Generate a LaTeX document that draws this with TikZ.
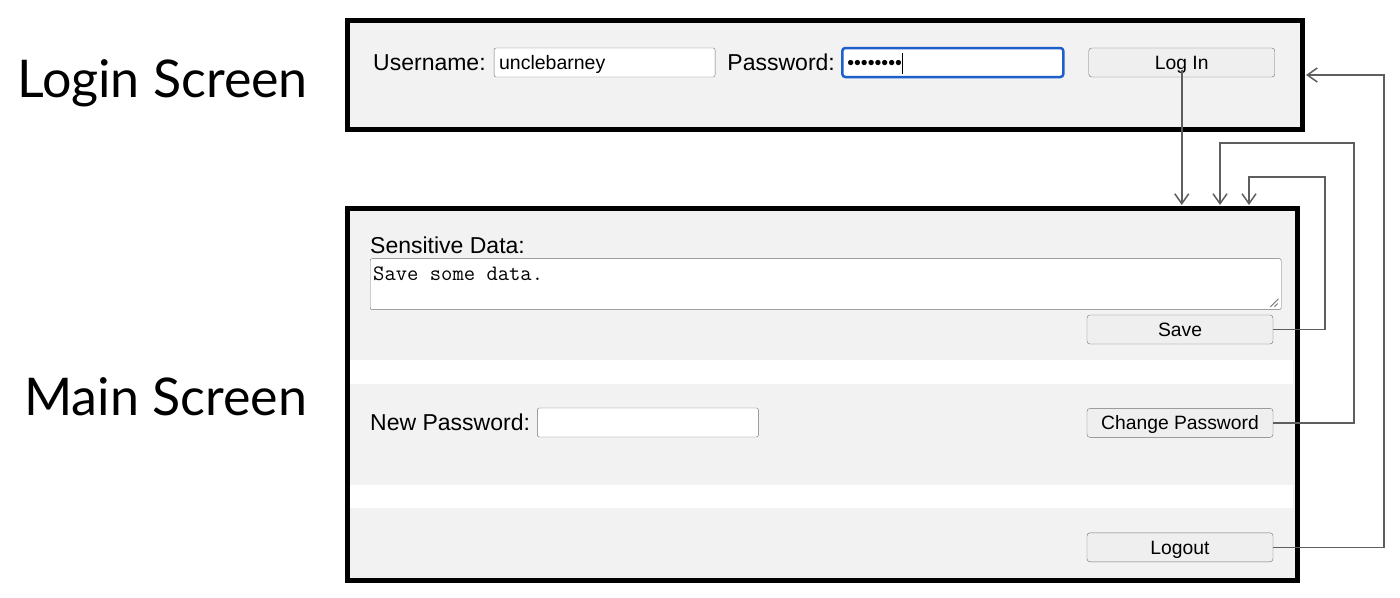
\documentclass[tikz,border=0pt]{standalone}
\usepackage{fontspec}
\setmainfont{Liberation Sans}
\newfontfamily\screenfont{Lato}
\usetikzlibrary{arrows.meta,positioning,calc}

\definecolor{panel}{HTML}{F2F2F2}
\definecolor{btnfill}{HTML}{EFEFEF}
\definecolor{fldedge}{HTML}{707070}
\definecolor{focus}{HTML}{1D5FCC}
\definecolor{wire}{HTML}{5E5E5E}

\begin{document}
\begin{tikzpicture}[
    x = 1pt, y = -1pt, % one unit per pixel, going down
    > = {Straight Barb[length=10pt, width=14pt]}, % open arrow head
    shorten > = 1pt, % don't push the tip into the frame
    node distance = 9pt, % gap between label and field
    ]

    \tikzset{
    screen/.style = {draw = black, line width = 5pt, fill = panel, inner sep = 0pt},
    uitext/.style = {inner sep = 0pt, font = \fontsize{23}{27}\selectfont},
    field/.style = {draw = fldedge, fill = white, rounded corners = 2pt, inner xsep = 5pt, inner ysep = 0pt,
        text width = 211pt, text height = 14pt, text depth = 0pt, minimum height = 29pt,
        font = \fontsize{19.5}{22}\selectfont},
    button/.style = {draw = fldedge, fill = btnfill, rounded corners = 3pt, inner sep = 0pt,
        text height = 14pt, text depth = 0pt, minimum width = 186pt, minimum height = 29pt,
        font = \fontsize{19.3}{22}\selectfont},
    heading/.style = {anchor = base west, inner sep = 0pt, font = \screenfont\fontsize{52}{60}\selectfont},
    flow/.style = {->, draw = wire, line width = 1.5pt},
    }
    \useasboundingbox (0,0) rectangle (1400,597);

    \node[heading] (logintitle) at (17,97) {Login Screen};
    \node[heading] (maintitle) at (24,415) {Main Screen};

    \node[screen, minimum width = 955pt, minimum height = 109pt] (loginscr) at (825,75) {};
    \node[screen, minimum width = 950pt, minimum height = 372pt] (mainscr) at (822.5,394.5) {};
    % white gaps between the panels
    \fill[white] (350,360) rectangle (1293,384);
    \fill[white] (350,485) rectangle (1293,508);

    % login form
    \node[uitext, anchor = west] (userlbl) at (373,62.5) {Username:};
    \node[field, right = 8pt of userlbl] (userfld) {unclebarney};
    \node[uitext, right = 12pt of userfld] (passlbl) {Password:};
    \node[field, draw = focus, line width = 2.5pt, rounded corners = 3pt, right = 6pt of passlbl] (passfld)
        {••••••••\rule[-4pt]{1.5pt}{21pt}};
    \node[button, right = 24pt of passfld] (loginbtn) {Log In};

    % main form
    \node[uitext, anchor = base west] (datalbl) at (370,253) {Sensitive Data:};
    \node[draw = fldedge, fill = white, rounded corners = 2pt, minimum width = 911pt, minimum height = 51pt,
        below right = 5pt and 0pt of datalbl.south west] (dataarea) {};
    \node[anchor = base west, inner sep = 0pt, font = \ttfamily\fontsize{22}{24}\selectfont] (datatext)
        at ($(dataarea.north west)+(3,22)$) {Save some data.};
    \draw[fldedge, line width = 1pt] ($(dataarea.south east)+(-11,-3)$) -- ($(dataarea.south east)+(-3,-11)$)
        ($(dataarea.south east)+(-7,-3)$) -- ($(dataarea.south east)+(-3,-7)$);
    \node[button] (savebtn) at (1180,329.5) {Save};
    \node[uitext, anchor = west] (newlbl) at (370,422.5) {New Password:};
    \node[field, right = 7pt of newlbl] (newfld) {};
    \node[button, below = 64pt of savebtn] (chgbtn) {Change Password};
    \node[button, below = 95pt of chgbtn] (logoutbtn) {Logout};

    \coordinate (saverail) at (1325,177);
    \coordinate (savedrop) at (1249,177);
    \coordinate (chgrail) at (1354,143);
    \coordinate (chgdrop) at (1220,143);
    \coordinate (logoutrail) at (1384,75);

    \draw[flow] (loginbtn.base) -- (loginbtn.base |- mainscr.north);
    \draw[flow] (savebtn.east) -| (saverail) -- (savedrop) -- (savedrop |- mainscr.north);
    \draw[flow] (chgbtn.east) -| (chgrail) -- (chgdrop) -- (chgdrop |- mainscr.north);
    \draw[flow] (logoutbtn.east) -| (logoutrail) -- (loginscr.east);
\end{tikzpicture}
\end{document}
